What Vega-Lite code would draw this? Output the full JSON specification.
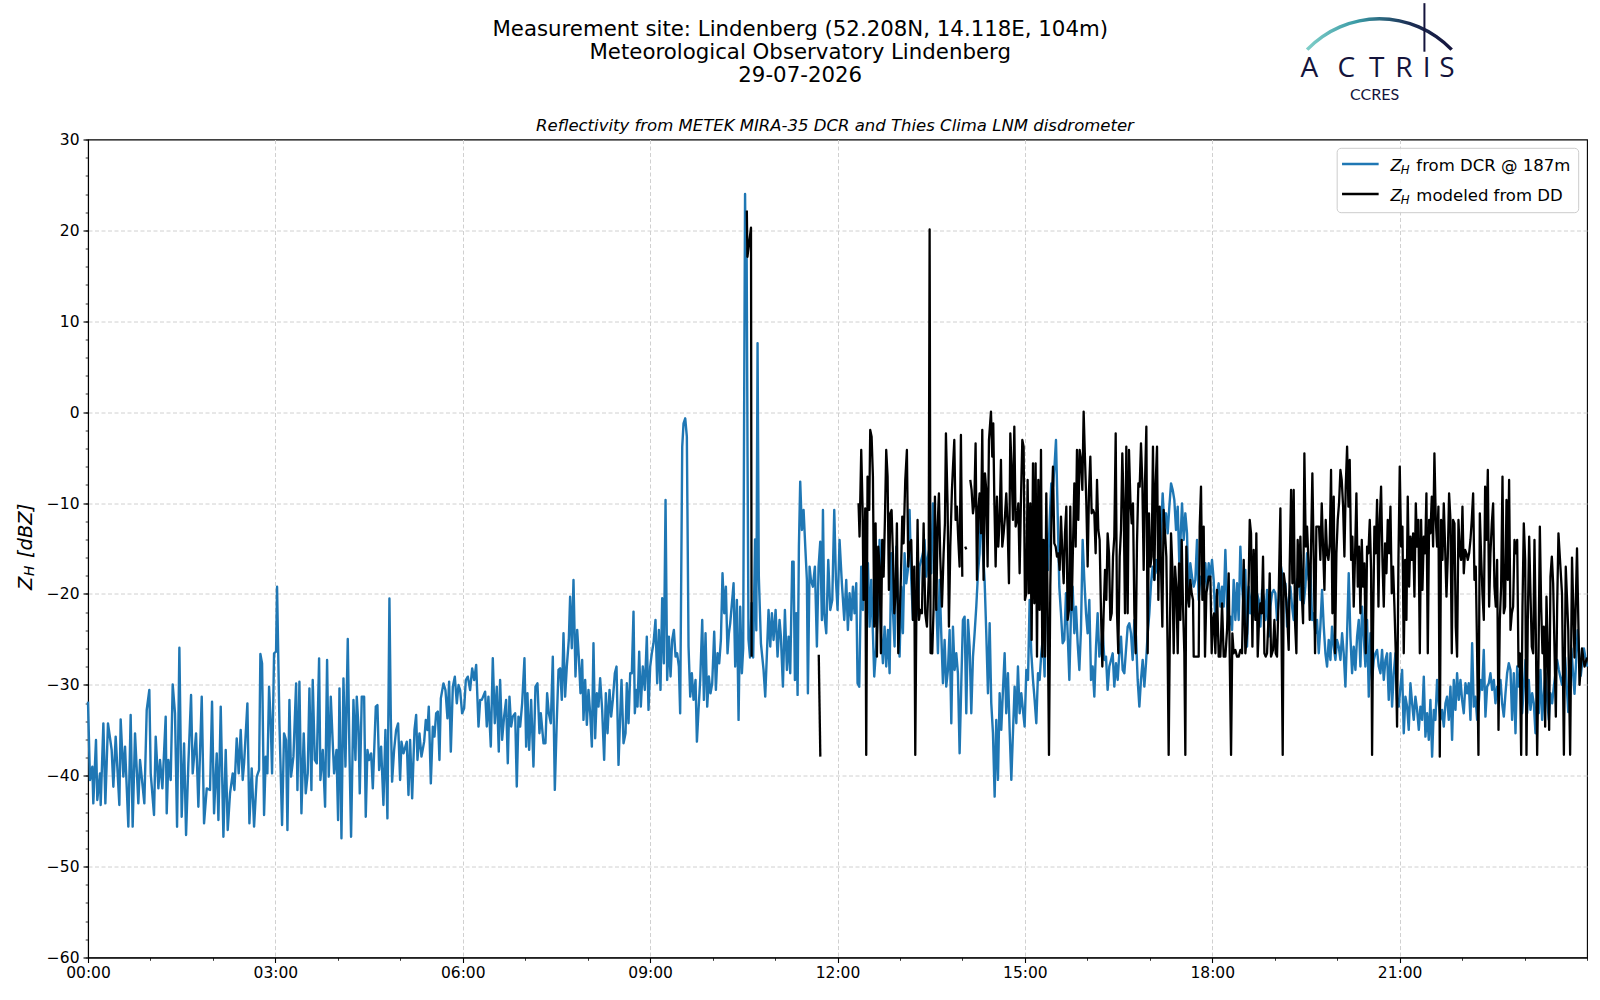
{
"$schema": "https://vega.github.io/schema/vega-lite/v6.json",
"autosize": "none",
"width": 1499,
"height": 818,
"padding": {"left": 88, "top": 139.5, "right": 13, "bottom": 42.5},
"background": "white",
"config": {
  "view": {"stroke": "#000000", "strokeWidth": 1.1},
  "font": "DejaVu Sans",
  "axis": {"labelFont": "DejaVu Sans", "labelFontSize": 15.5, "labelColor": "#000000", "tickColor": "#000000", "domainColor": "#000000", "labelFlush": false, "labelOverlap": false, "title": null}
},
"datasets": {
"one": [{}],
"dcr": [
{"t":0,"z":-31.85},{"t":0.032,"z":-40.47},{"t":0.069,"z":-39},{"t":0.085,"z":-43.04},{"t":0.128,"z":-36.07},{"t":0.149,"z":-42.67},{"t":0.192,"z":-39.74},{"t":0.203,"z":-43.22},{"t":0.246,"z":-34.24},{"t":0.278,"z":-43.04},{"t":0.32,"z":-34.24},{"t":0.379,"z":-37.17},{"t":0.406,"z":-41.21},{"t":0.443,"z":-35.7},{"t":0.502,"z":-43.22},{"t":0.523,"z":-33.8},{"t":0.566,"z":-40.1},{"t":0.593,"z":-36.8},{"t":0.646,"z":-45.6},{"t":0.683,"z":-33.32},{"t":0.715,"z":-45.6},{"t":0.753,"z":-35.34},{"t":0.806,"z":-43.04},{"t":0.833,"z":-38.27},{"t":0.902,"z":-43.04},{"t":0.94,"z":-32.77},{"t":0.982,"z":-30.57},{"t":1.004,"z":-39.74},{"t":1.057,"z":-44.32},{"t":1.084,"z":-35.7},{"t":1.127,"z":-41.39},{"t":1.153,"z":-38.27},{"t":1.191,"z":-41.39},{"t":1.244,"z":-33.5},{"t":1.26,"z":-44.14},{"t":1.287,"z":-38.27},{"t":1.324,"z":-40.47},{"t":1.356,"z":-29.95},{"t":1.393,"z":-33.14},{"t":1.426,"z":-45.6},{"t":1.463,"z":-25.91},{"t":1.5,"z":-44.51},{"t":1.538,"z":-36.44},{"t":1.57,"z":-46.52},{"t":1.607,"z":-38.64},{"t":1.65,"z":-31.12},{"t":1.676,"z":-39.74},{"t":1.73,"z":-35.34},{"t":1.767,"z":-43.41},{"t":1.821,"z":-31.3},{"t":1.858,"z":-45.24},{"t":1.901,"z":-41.39},{"t":1.954,"z":-41.57},{"t":1.986,"z":-31.85},{"t":2.018,"z":-44.14},{"t":2.061,"z":-37.54},{"t":2.088,"z":-44.87},{"t":2.125,"z":-32.4},{"t":2.168,"z":-46.71},{"t":2.205,"z":-37.17},{"t":2.237,"z":-45.97},{"t":2.274,"z":-41.94},{"t":2.317,"z":-39.74},{"t":2.344,"z":-41.57},{"t":2.381,"z":-35.89},{"t":2.413,"z":-39.74},{"t":2.445,"z":-34.97},{"t":2.477,"z":-40.47},{"t":2.499,"z":-38.64},{"t":2.552,"z":-32.04},{"t":2.584,"z":-45.24},{"t":2.621,"z":-39.19},{"t":2.659,"z":-45.6},{"t":2.702,"z":-40.1},{"t":2.739,"z":-39.37},{"t":2.76,"z":-26.61},{"t":2.787,"z":-27.64},{"t":2.819,"z":-44.32},{"t":2.846,"z":-37.9},{"t":2.872,"z":-39.74},{"t":2.899,"z":-30.2},{"t":2.926,"z":-34.24},{"t":2.947,"z":-39.74},{"t":2.979,"z":-26.54},{"t":3.011,"z":-26.35},{"t":3.027,"z":-19.2},{"t":3.065,"z":-34.24},{"t":3.107,"z":-45.42},{"t":3.139,"z":-35.34},{"t":3.171,"z":-36.07},{"t":3.193,"z":-45.97},{"t":3.225,"z":-31.67},{"t":3.251,"z":-40.1},{"t":3.289,"z":-37.9},{"t":3.332,"z":-29.84},{"t":3.353,"z":-41.57},{"t":3.385,"z":-29.65},{"t":3.417,"z":-44.14},{"t":3.454,"z":-35.34},{"t":3.486,"z":-41.94},{"t":3.518,"z":-39.74},{"t":3.545,"z":-30.39},{"t":3.577,"z":-41.57},{"t":3.598,"z":-29.47},{"t":3.631,"z":-38.27},{"t":3.663,"z":-38.64},{"t":3.7,"z":-27.09},{"t":3.721,"z":-40.47},{"t":3.759,"z":-37.17},{"t":3.796,"z":-43.41},{"t":3.828,"z":-27.27},{"t":3.855,"z":-40.1},{"t":3.887,"z":-31.3},{"t":3.914,"z":-35.7},{"t":3.94,"z":-39.74},{"t":3.978,"z":-37.17},{"t":4.004,"z":-44.87},{"t":4.026,"z":-30.39},{"t":4.058,"z":-46.89},{"t":4.09,"z":-29.29},{"t":4.122,"z":-39},{"t":4.159,"z":-24.96},{"t":4.186,"z":-37.54},{"t":4.212,"z":-46.71},{"t":4.25,"z":-31.67},{"t":4.282,"z":-38.27},{"t":4.303,"z":-31.3},{"t":4.33,"z":-34.6},{"t":4.351,"z":-41.94},{"t":4.383,"z":-31.3},{"t":4.421,"z":-31.3},{"t":4.447,"z":-44.51},{"t":4.474,"z":-37.17},{"t":4.501,"z":-38.27},{"t":4.533,"z":-37.54},{"t":4.56,"z":-41.39},{"t":4.608,"z":-32.4},{"t":4.634,"z":-32.22},{"t":4.661,"z":-39.37},{"t":4.693,"z":-36.8},{"t":4.73,"z":-43.22},{"t":4.762,"z":-34.97},{"t":4.794,"z":-44.69},{"t":4.826,"z":-20.49},{"t":4.848,"z":-33.5},{"t":4.869,"z":-40.65},{"t":4.901,"z":-37.17},{"t":4.933,"z":-34.97},{"t":4.965,"z":-34.24},{"t":4.997,"z":-40.47},{"t":5.019,"z":-36.25},{"t":5.051,"z":-37.54},{"t":5.104,"z":-36.25},{"t":5.131,"z":-42.12},{"t":5.157,"z":-36.07},{"t":5.19,"z":-42.49},{"t":5.227,"z":-34.97},{"t":5.254,"z":-33.32},{"t":5.275,"z":-38.27},{"t":5.307,"z":-35.34},{"t":5.339,"z":-37.9},{"t":5.382,"z":-36.25},{"t":5.408,"z":-33.87},{"t":5.435,"z":-34.97},{"t":5.456,"z":-32.4},{"t":5.489,"z":-40.84},{"t":5.521,"z":-34.6},{"t":5.547,"z":-35.7},{"t":5.574,"z":-33.14},{"t":5.601,"z":-32.95},{"t":5.627,"z":-38.27},{"t":5.649,"z":-31.49},{"t":5.691,"z":-29.84},{"t":5.723,"z":-30.57},{"t":5.755,"z":-33.69},{"t":5.782,"z":-29.65},{"t":5.809,"z":-37.35},{"t":5.841,"z":-30.2},{"t":5.873,"z":-29.1},{"t":5.905,"z":-32.04},{"t":5.932,"z":-30.02},{"t":5.958,"z":-30.57},{"t":5.99,"z":-33.14},{"t":6.022,"z":-32.59},{"t":6.049,"z":-29.47},{"t":6.081,"z":-29.1},{"t":6.118,"z":-30.57},{"t":6.151,"z":-28.19},{"t":6.183,"z":-29.47},{"t":6.215,"z":-27.82},{"t":6.252,"z":-34.6},{"t":6.279,"z":-31.67},
{"t":6.305,"z":-31.66},{"t":6.358,"z":-30.75},{"t":6.385,"z":-34.59},{"t":6.411,"z":-31.3},{"t":6.449,"z":-36.8},{"t":6.481,"z":-27.08},{"t":6.513,"z":-34.23},{"t":6.545,"z":-30.2},{"t":6.577,"z":-37.35},{"t":6.598,"z":-29.46},{"t":6.63,"z":-36.06},{"t":6.662,"z":-33.5},{"t":6.694,"z":-31.66},{"t":6.721,"z":-38.63},{"t":6.748,"z":-31.3},{"t":6.775,"z":-34.59},{"t":6.801,"z":-33.5},{"t":6.839,"z":-33.13},{"t":6.865,"z":-41.19},{"t":6.892,"z":-33.5},{"t":6.919,"z":-34.59},{"t":6.951,"z":-32.03},{"t":6.988,"z":-27.08},{"t":7.015,"z":-36.8},{"t":7.036,"z":-30.93},{"t":7.063,"z":-37.16},{"t":7.095,"z":-31.66},{"t":7.132,"z":-39},{"t":7.164,"z":-30.2},{"t":7.196,"z":-29.83},{"t":7.228,"z":-35.33},{"t":7.25,"z":-33.13},{"t":7.293,"z":-36.43},{"t":7.324,"z":-36.43},{"t":7.351,"z":-30.93},{"t":7.378,"z":-33.13},{"t":7.41,"z":-34.23},{"t":7.442,"z":-26.9},{"t":7.474,"z":-41.56},{"t":7.506,"z":-33.86},{"t":7.533,"z":-28.36},{"t":7.559,"z":-28.18},{"t":7.586,"z":-31.66},{"t":7.613,"z":-24.33},{"t":7.639,"z":-31.3},{"t":7.666,"z":-27.99},{"t":7.698,"z":-25.06},{"t":7.719,"z":-20.3},{"t":7.746,"z":-25.98},{"t":7.773,"z":-18.46},{"t":7.805,"z":-29.09},{"t":7.832,"z":-23.96},{"t":7.858,"z":-26.9},{"t":7.885,"z":-30.93},{"t":7.912,"z":-27.26},{"t":7.933,"z":-33.86},{"t":7.96,"z":-29.46},{"t":7.987,"z":-34.41},{"t":8.013,"z":-30.56},{"t":8.04,"z":-33.13},{"t":8.067,"z":-36.8},{"t":8.093,"z":-25.43},{"t":8.12,"z":-35.88},{"t":8.147,"z":-30.93},{"t":8.173,"z":-32.4},{"t":8.2,"z":-29.28},{"t":8.232,"z":-32.76},{"t":8.264,"z":-38.26},{"t":8.291,"z":-30.93},{"t":8.318,"z":-35.33},{"t":8.35,"z":-30.56},{"t":8.376,"z":-33.5},{"t":8.403,"z":-31.66},{"t":8.435,"z":-28.73},{"t":8.462,"z":-27.99},{"t":8.494,"z":-38.81},{"t":8.52,"z":-33.5},{"t":8.542,"z":-29.46},{"t":8.574,"z":-36.43},{"t":8.606,"z":-35.33},{"t":8.627,"z":-29.83},{"t":8.654,"z":-34.23},{"t":8.681,"z":-28.73},{"t":8.707,"z":-28.73},{"t":8.734,"z":-21.94},{"t":8.755,"z":-33.13},{"t":8.777,"z":-30.56},{"t":8.798,"z":-32.4},{"t":8.825,"z":-26.35},{"t":8.851,"z":-32.4},{"t":8.883,"z":-27.99},{"t":8.915,"z":-30.56},{"t":8.947,"z":-24.7},{"t":8.974,"z":-32.76},{"t":9.001,"z":-27.99},{"t":9.027,"z":-26.53},{"t":9.054,"z":-25.43},{"t":9.086,"z":-22.86},{"t":9.113,"z":-29.83},{"t":9.14,"z":-23.96},{"t":9.166,"z":-30.56},{"t":9.193,"z":-20.48},{"t":9.22,"z":-27.63},{"t":9.247,"z":-9.66},{"t":9.273,"z":-29.46},{"t":9.3,"z":-24.7},{"t":9.327,"z":-29.09},{"t":9.353,"z":-25.06},{"t":9.38,"z":-23.96},{"t":9.407,"z":-26.9},{"t":9.433,"z":-26.53},{"t":9.46,"z":-27.99},{"t":9.481,"z":-33.13},{"t":9.514,"z":-3.79},{"t":9.535,"z":-1.23},{"t":9.562,"z":-0.68},{"t":9.588,"z":-2.69},{"t":9.615,"z":-25.79},{"t":9.642,"z":-31.3},{"t":9.668,"z":-28.73},{"t":9.695,"z":-31.66},{"t":9.727,"z":-29.46},{"t":9.749,"z":-36.25},{"t":9.775,"z":-32.76},{"t":9.802,"z":-29.46},{"t":9.834,"z":-22.86},{"t":9.861,"z":-31.66},{"t":9.887,"z":-24.33},{"t":9.914,"z":-32.4},{"t":9.941,"z":-29.09},{"t":9.967,"z":-30.93},{"t":9.994,"z":-29.83},{"t":10.026,"z":-24.15},{"t":10.053,"z":-30.56},{"t":10.079,"z":-26.53},{"t":10.106,"z":-27.63},{"t":10.133,"z":-25.06},{"t":10.159,"z":-17.73},{"t":10.186,"z":-22.13},{"t":10.213,"z":-19.2},{"t":10.239,"z":-26.53},{"t":10.261,"z":-24.33},{"t":10.282,"z":-23.23},{"t":10.314,"z":-20.67},{"t":10.336,"z":-18.83},{"t":10.362,"z":-27.99},{"t":10.389,"z":-20.67},{"t":10.416,"z":-33.86},{"t":10.442,"z":-21.4},{"t":10.469,"z":-28.73},
{"t":10.49,"z":-26},{"t":10.505,"z":0},{"t":10.52,"z":24},{"t":10.532,"z":13.5},{"t":10.545,"z":18},{"t":10.56,"z":-5},{"t":10.575,"z":-25},{"t":10.6,"z":-27},{"t":10.625,"z":-21},{"t":10.65,"z":-27},{"t":10.68,"z":-14},{"t":10.7,"z":-24},{"t":10.72,"z":7.6},{"t":10.74,"z":-18},
{"t":10.774,"z":-25.43},{"t":10.816,"z":-28.36},{"t":10.843,"z":-31.3},{"t":10.87,"z":-26.53},{"t":10.896,"z":-21.76},{"t":10.923,"z":-25.79},{"t":10.95,"z":-22.13},{"t":10.976,"z":-25.06},{"t":11.009,"z":-21.76},{"t":11.04,"z":-26.9},{"t":11.072,"z":-22.86},{"t":11.094,"z":-24.7},{"t":11.126,"z":-30.2},{"t":11.158,"z":-21.76},{"t":11.19,"z":-28.36},{"t":11.217,"z":-24.7},{"t":11.243,"z":-28.73},{"t":11.275,"z":-16.44},{"t":11.297,"z":-16.44},{"t":11.318,"z":-29.46},{"t":11.339,"z":-22.13},{"t":11.361,"z":-31.11},{"t":11.382,"z":-14.8},{"t":11.403,"z":-7.64},{"t":11.43,"z":-12.96},{"t":11.457,"z":-10.76},{"t":11.484,"z":-14.8},{"t":11.51,"z":-18.46},{"t":11.526,"z":-30.93},{"t":11.553,"z":-16.99},{"t":11.574,"z":-18.46},{"t":11.606,"z":-19.2},{"t":11.638,"z":-16.99},{"t":11.67,"z":-25.79},{"t":11.697,"z":-16.99},{"t":11.724,"z":-14.25},{"t":11.75,"z":-22.86},{"t":11.767,"z":-10.76},{"t":11.788,"z":-22.13},{"t":11.82,"z":-24.33},{"t":11.852,"z":-16.26},{"t":11.884,"z":-21.76},{"t":11.916,"z":-20.67},{"t":11.948,"z":-10.76},{"t":11.975,"z":-18.46},{"t":12.001,"z":-21.76},{"t":12.033,"z":-14.06},
{"t":12.07,"z":-18.83},{"t":12.108,"z":-22.86},{"t":12.14,"z":-18.46},{"t":12.166,"z":-23.96},{"t":12.193,"z":-19.93},{"t":12.22,"z":-22.86},{"t":12.247,"z":-19.2},{"t":12.273,"z":-22.13},{"t":12.3,"z":-18.83},{"t":12.321,"z":-29.83},{"t":12.348,"z":-30.2},{"t":12.38,"z":-16.99},{"t":12.407,"z":-21.76},{"t":12.433,"z":-11.86},{"t":12.46,"z":-18.46},{"t":12.487,"z":-16.63},{"t":12.514,"z":-23.6},{"t":12.54,"z":-18.46},{"t":12.567,"z":-24.33},{"t":12.588,"z":-29.09},{"t":12.62,"z":-25.79},{"t":12.647,"z":-22.13},{"t":12.674,"z":-14.06},{"t":12.7,"z":-24.33},{"t":12.727,"z":-27.63},{"t":12.754,"z":-23.6},{"t":12.78,"z":-27.99},{"t":12.807,"z":-23.96},{"t":12.834,"z":-28.73},{"t":12.861,"z":-15.53},{"t":12.887,"z":-21.76},{"t":12.914,"z":-25.79},{"t":12.941,"z":-14.8},{"t":12.967,"z":-20.3},{"t":12.994,"z":-26.9},{"t":13.021,"z":-19.2},{"t":13.047,"z":-24.33},{"t":13.074,"z":-15.53},{"t":13.101,"z":-18.83},{"t":13.127,"z":-17.36},{"t":13.154,"z":-10.76},{"t":13.181,"z":-18.46},{"t":13.208,"z":-22.86},{"t":13.234,"z":-19.93},{"t":13.261,"z":-22.5},{"t":13.288,"z":-21.4},{"t":13.314,"z":-16.99},{"t":13.341,"z":-16.26},{"t":13.368,"z":-15.53},{"t":13.394,"z":-14.06},{"t":13.421,"z":-18.1},{"t":13.448,"z":-15.9},{"t":13.475,"z":-14.8},{"t":13.501,"z":-17.73},{"t":13.528,"z":-10.03},{"t":13.555,"z":-14.06},{"t":13.581,"z":-20.66},{"t":13.608,"z":-26.53},{"t":13.635,"z":-18.46},{"t":13.661,"z":-24.33},{"t":13.688,"z":-29.83},{"t":13.715,"z":-25.06},{"t":13.741,"z":-30.2},{"t":13.768,"z":-28.36},{"t":13.795,"z":-23.96},{"t":13.822,"z":-34.23},{"t":13.848,"z":-23.6},{"t":13.875,"z":-28.36},{"t":13.902,"z":-26.53},{"t":13.928,"z":-28.73},{"t":13.955,"z":-37.53},{"t":13.982,"z":-29.83},{"t":14.008,"z":-22.86},{"t":14.035,"z":-22.5},{"t":14.062,"z":-33.13},{"t":14.089,"z":-22.86},{"t":14.115,"z":-25.79},{"t":14.142,"z":-33.13},{"t":14.169,"z":-26.9},{"t":14.195,"z":-24.33},{"t":14.222,"z":-21.4},{"t":14.249,"z":-17.73},{"t":14.275,"z":-15.53},{"t":14.302,"z":-9.29},{"t":14.329,"z":-15.53},{"t":14.355,"z":-18.46},{"t":14.382,"z":-24.33},{"t":14.409,"z":-30.93},{"t":14.436,"z":-23.23},{"t":14.462,"z":-32.03},{"t":14.489,"z":-35.33},{"t":14.516,"z":-42.3},{"t":14.542,"z":-33.86},{"t":14.569,"z":-40.46},{"t":14.596,"z":-30.93},{"t":14.622,"z":-34.96},{"t":14.649,"z":-30.56},{"t":14.676,"z":-26.53},{"t":14.702,"z":-33.13},{"t":14.729,"z":-28.73},{"t":14.756,"z":-34.96},{"t":14.783,"z":-40.46},{"t":14.809,"z":-35.33},{"t":14.836,"z":-30.2},{"t":14.863,"z":-34.23},{"t":14.889,"z":-27.99},{"t":14.916,"z":-33.13},{"t":14.943,"z":-30.93},{"t":14.969,"z":-32.76},{"t":14.996,"z":-34.59},{"t":15.023,"z":-28.36},{"t":15.05,"z":-29.46},{"t":15.076,"z":-20.66},{"t":15.103,"z":-26.53},{"t":15.13,"z":-29.46},{"t":15.156,"z":-31.66},{"t":15.183,"z":-34.23},{"t":15.21,"z":-28.73},{"t":15.236,"z":-29.46},{"t":15.263,"z":-26.53},{"t":15.29,"z":-24.7},{"t":15.316,"z":-29.09},{"t":15.343,"z":-15.53},{"t":15.37,"z":-17.36},{"t":15.397,"z":-11.86},{"t":15.423,"z":-7.83},{"t":15.45,"z":-8.19},{"t":15.477,"z":-5.63},{"t":15.498,"z":-3.06},{"t":15.525,"z":-11.13},{"t":15.551,"z":-19.2},{"t":15.578,"z":-22.13},{"t":15.605,"z":-25.43},{"t":15.631,"z":-25.06},{"t":15.658,"z":-19.93},{"t":15.685,"z":-24.33},{"t":15.712,"z":-29.46},{"t":15.738,"z":-22.13},{"t":15.765,"z":-19.2},{"t":15.792,"z":-24.33},{"t":15.818,"z":-21.4},{"t":15.845,"z":-25.43},{"t":15.872,"z":-28.36},{"t":15.898,"z":-23.96},{"t":15.925,"z":-14.06},{"t":15.952,"z":-18.46},{"t":15.979,"z":-22.13},{"t":16.005,"z":-24.33},{"t":16.032,"z":-20.66},{"t":16.059,"z":-29.46},{"t":16.085,"z":-27.99},{"t":16.112,"z":-31.3},{"t":16.139,"z":-25.79},{"t":16.165,"z":-22.13},{"t":16.192,"z":-26.9},{"t":16.219,"z":-25.79},{"t":16.245,"z":-23.96},{"t":16.272,"z":-27.26},{"t":16.299,"z":-26.9},{"t":16.325,"z":-30.56},{"t":16.352,"z":-27.99},{"t":16.379,"z":-27.26},{"t":16.406,"z":-26.53},{"t":16.432,"z":-30.2},{"t":16.459,"z":-27.63},{"t":16.486,"z":-29.46},{"t":16.512,"z":-26.53},{"t":16.539,"z":-24.7},{"t":16.566,"z":-28.36},{"t":16.592,"z":-28.73},{"t":16.619,"z":-26.16},{"t":16.646,"z":-23.6},{"t":16.672,"z":-23.23},{"t":16.699,"z":-24.33},{"t":16.726,"z":-27.26},{"t":16.753,"z":-22.86},{"t":16.779,"z":-24.7},{"t":16.806,"z":-29.46},{"t":16.833,"z":-32.4},{"t":16.859,"z":-29.46},{"t":16.886,"z":-27.26},{"t":16.913,"z":-30.2},{"t":16.939,"z":-27.63},{"t":16.966,"z":-24.33},{"t":16.993,"z":-22.13},{"t":17.02,"z":-18.83},{"t":17.046,"z":-16.99},{"t":17.073,"z":-18.46},{"t":17.1,"z":-16.26},{"t":17.126,"z":-17.73},{"t":17.153,"z":-16.99},{"t":17.18,"z":-13.33},{"t":17.206,"z":-8.93},{"t":17.233,"z":-12.59},{"t":17.26,"z":-11.13},{"t":17.286,"z":-13.33},{"t":17.313,"z":-10.39},{"t":17.34,"z":-7.83},{"t":17.367,"z":-8.56},{"t":17.393,"z":-9.66},{"t":17.42,"z":-12.96},{"t":17.447,"z":-10.39},{"t":17.474,"z":-16.99},
{"t":17.516,"z":-10.03},{"t":17.543,"z":-14.06},{"t":17.569,"z":-11.13},{"t":17.596,"z":-13.33},{"t":17.623,"z":-21.03},{"t":17.649,"z":-16.63},{"t":17.676,"z":-18.09},{"t":17.703,"z":-19.2},{"t":17.729,"z":-18.46},{"t":17.756,"z":-14.06},{"t":17.783,"z":-20.66},{"t":17.81,"z":-18.09},{"t":17.836,"z":-18.83},{"t":17.863,"z":-19.2},{"t":17.89,"z":-16.63},{"t":17.916,"z":-19.56},{"t":17.943,"z":-16.63},{"t":17.97,"z":-18.09},{"t":17.996,"z":-16.26},{"t":18.023,"z":-18.46},{"t":18.05,"z":-22.86},{"t":18.076,"z":-19.93},{"t":18.103,"z":-18.83},{"t":18.13,"z":-21.4},{"t":18.157,"z":-19.2},{"t":18.183,"z":-21.4},{"t":18.21,"z":-15.16},{"t":18.237,"z":-21.03},{"t":18.263,"z":-23.6},{"t":18.29,"z":-22.5},{"t":18.317,"z":-23.96},{"t":18.343,"z":-18.46},{"t":18.37,"z":-22.86},{"t":18.397,"z":-18.83},{"t":18.423,"z":-22.86},{"t":18.45,"z":-14.79},{"t":18.477,"z":-19.2},{"t":18.504,"z":-21.4},{"t":18.53,"z":-17.36},{"t":18.557,"z":-25.8},{"t":18.584,"z":-19.2},{"t":18.61,"z":-22.13},{"t":18.637,"z":-19.93},{"t":18.664,"z":-18.83},{"t":18.69,"z":-22.5},{"t":18.717,"z":-19.93},{"t":18.744,"z":-20.66},{"t":18.771,"z":-23.6},{"t":18.797,"z":-19.56},{"t":18.824,"z":-20.3},{"t":18.851,"z":-22.86},{"t":18.877,"z":-19.56},{"t":18.904,"z":-24.7},{"t":18.931,"z":-21.4},{"t":18.957,"z":-19.93},{"t":18.984,"z":-19.56},{"t":19.011,"z":-19.93},{"t":19.037,"z":-22.86},{"t":19.064,"z":-20.66},{"t":19.091,"z":-16.63},{"t":19.117,"z":-17.73},{"t":19.144,"z":-19.56},{"t":19.171,"z":-18.83},{"t":19.198,"z":-23.6},{"t":19.224,"z":-20.66},{"t":19.251,"z":-19.2},{"t":19.278,"z":-21.4},{"t":19.304,"z":-22.86},{"t":19.331,"z":-19.2},{"t":19.358,"z":-18.46},{"t":19.384,"z":-18.09},{"t":19.411,"z":-20.66},{"t":19.438,"z":-17.36},{"t":19.465,"z":-21.03},{"t":19.491,"z":-19.2},{"t":19.518,"z":-15.53},{"t":19.545,"z":-18.46},{"t":19.571,"z":-16.99},{"t":19.598,"z":-22.86},{"t":19.625,"z":-22.13},{"t":19.651,"z":-24.33},{"t":19.678,"z":-22.86},{"t":19.705,"z":-26.53},{"t":19.731,"z":-23.6},{"t":19.758,"z":-19.56},{"t":19.785,"z":-23.6},{"t":19.812,"z":-26.53},{"t":19.838,"z":-27.99},{"t":19.865,"z":-25.06},{"t":19.892,"z":-27.26},{"t":19.918,"z":-23.6},{"t":19.945,"z":-25.8},{"t":19.972,"z":-27.26},{"t":19.998,"z":-25.06},{"t":20.025,"z":-25.8},{"t":20.052,"z":-27.26},{"t":20.079,"z":-24.33},{"t":20.105,"z":-26.53},{"t":20.132,"z":-30.2},{"t":20.159,"z":-24.33},{"t":20.185,"z":-17.73},{"t":20.212,"z":-24.7},{"t":20.239,"z":-28.73},{"t":20.265,"z":-25.8},{"t":20.292,"z":-28.36},{"t":20.319,"z":-24.7},{"t":20.346,"z":-22.86},{"t":20.372,"z":-27.99},{"t":20.399,"z":-21.4},{"t":20.426,"z":-24.7},{"t":20.452,"z":-27.99},{"t":20.479,"z":-22.86},{"t":20.506,"z":-31.3},{"t":20.532,"z":-24.33},{"t":20.559,"z":-29.46},{"t":20.586,"z":-27.26},{"t":20.612,"z":-26.53},{"t":20.639,"z":-26.16},{"t":20.666,"z":-27.99},{"t":20.693,"z":-28.73},{"t":20.719,"z":-26.16},{"t":20.746,"z":-29.46},{"t":20.773,"z":-27.26},{"t":20.799,"z":-26.53},{"t":20.826,"z":-31.66},{"t":20.853,"z":-26.53},{"t":20.879,"z":-32.4},{"t":20.906,"z":-28.73},{"t":20.933,"z":-26.53},{"t":20.959,"z":-31.66},{"t":20.986,"z":-32.4},{"t":21.013,"z":-30.2},{"t":21.04,"z":-28.36},{"t":21.066,"z":-35.33},{"t":21.093,"z":-31.3},{"t":21.12,"z":-32.4},{"t":21.146,"z":-34.96},{"t":21.173,"z":-29.83},{"t":21.2,"z":-32.03},{"t":21.226,"z":-33.86},{"t":21.253,"z":-31.3},{"t":21.28,"z":-32.76},{"t":21.307,"z":-34.96},{"t":21.333,"z":-32.4},{"t":21.36,"z":-33.86},{"t":21.387,"z":-29.1},{"t":21.413,"z":-35.7},{"t":21.44,"z":-33.13},{"t":21.467,"z":-36.06},{"t":21.493,"z":-31.66},{"t":21.52,"z":-37.9},{"t":21.547,"z":-32.76},{"t":21.573,"z":-33.86},{"t":21.6,"z":-29.46},{"t":21.627,"z":-32.03},{"t":21.653,"z":-33.86},{"t":21.68,"z":-32.76},{"t":21.707,"z":-34.6},{"t":21.734,"z":-32.03},{"t":21.76,"z":-31.3},{"t":21.787,"z":-33.86},{"t":21.814,"z":-30.2},{"t":21.84,"z":-36.06},{"t":21.867,"z":-29.46},{"t":21.894,"z":-32.76},{"t":21.92,"z":-28.73},{"t":21.947,"z":-31.66},{"t":21.974,"z":-29.46},{"t":22,"z":-31.66},{"t":22.027,"z":-33.13},{"t":22.054,"z":-29.83},{"t":22.081,"z":-30.93},{"t":22.107,"z":-29.83},{"t":22.134,"z":-33.86},{"t":22.161,"z":-25.43},{"t":22.187,"z":-32.4},{"t":22.214,"z":-31.3},{"t":22.241,"z":-33.86},{"t":22.267,"z":-32.03},{"t":22.294,"z":-29.46},{"t":22.321,"z":-30.56},{"t":22.347,"z":-26.16},{"t":22.374,"z":-33.5},{"t":22.401,"z":-30.2},{"t":22.428,"z":-29.83},{"t":22.454,"z":-28.73},{"t":22.481,"z":-30.56},{"t":22.508,"z":-29.46},{"t":22.534,"z":-32.03},{"t":22.561,"z":-30.2},{"t":22.588,"z":-31.3},{"t":22.615,"z":-29.46},{"t":22.641,"z":-32.03},{"t":22.668,"z":-33.5},{"t":22.695,"z":-30.93},{"t":22.721,"z":-28.73},{"t":22.748,"z":-27.63},{"t":22.775,"z":-28.36},{"t":22.801,"z":-33.86},{"t":22.828,"z":-28.73},{"t":22.855,"z":-35.33},{"t":22.882,"z":-27.99},{"t":22.908,"z":-30.2},{"t":22.935,"z":-28.73},{"t":22.962,"z":-33.13},{"t":22.988,"z":-30.2},{"t":23.015,"z":-27.26},{"t":23.042,"z":-33.13},{"t":23.068,"z":-29.46},{"t":23.095,"z":-32.76},{"t":23.122,"z":-30.93},{"t":23.148,"z":-32.03},{"t":23.175,"z":-35.33},{"t":23.202,"z":-30.2},{"t":23.228,"z":-33.13},{"t":23.255,"z":-28.36},{"t":23.282,"z":-33.86},{"t":23.309,"z":-30.93},{"t":23.335,"z":-28.73},{"t":23.362,"z":-31.66},{"t":23.389,"z":-33.86},{"t":23.415,"z":-30.93},{"t":23.442,"z":-32.03},{"t":23.469,"z":-30.2},{"t":23.495,"z":-28.73},{"t":23.522,"z":-27.26},{"t":23.549,"z":-28.36},{"t":23.6,"z":-30},{"t":23.65,"z":-27},{"t":23.7,"z":-33},{"t":23.75,"z":-26},{"t":23.8,"z":-31},{"t":23.85,"z":-24},{"t":23.9,"z":-29},{"t":23.95,"z":-26},{"t":24,"z":-28}
],
"dd": [
{"t":10.548,"z":22.2,"s":1},{"t":10.558,"z":17.1,"s":1},{"t":10.615,"z":20.3,"s":1},{"t":10.625,"z":-26.9,"s":1},
{"t":11.7,"z":-26.7,"s":2},{"t":11.725,"z":-37.9,"s":2},
{"t":12.337,"z":-10.03,"s":3},{"t":12.353,"z":-13.69,"s":3},{"t":12.38,"z":-4.16,"s":3},{"t":12.401,"z":-10.39,"s":3},{"t":12.417,"z":-20.66,"s":3},{"t":12.444,"z":-10.58,"s":3},{"t":12.46,"z":-37.71,"s":3},{"t":12.481,"z":-7.09,"s":3},{"t":12.508,"z":-10.76,"s":3},{"t":12.524,"z":-1.96,"s":3},{"t":12.546,"z":-2.69,"s":3},{"t":12.567,"z":-7.09,"s":3},{"t":12.588,"z":-23.6,"s":3},{"t":12.61,"z":-12.23,"s":3},{"t":12.631,"z":-26.9,"s":3},{"t":12.652,"z":-14.8,"s":3},{"t":12.674,"z":-16.99,"s":3},{"t":12.695,"z":-26.53,"s":3},{"t":12.716,"z":-14.06,"s":3},{"t":12.738,"z":-18.1,"s":3},{"t":12.759,"z":-11.86,"s":3},{"t":12.78,"z":-4.16,"s":3},{"t":12.802,"z":-7.09,"s":3},{"t":12.823,"z":-19.56,"s":3},{"t":12.845,"z":-11.13,"s":3},{"t":12.866,"z":-10.76,"s":3},{"t":12.887,"z":-15.53,"s":3},{"t":12.909,"z":-22.13,"s":3},{"t":12.93,"z":-19.93,"s":3},{"t":12.951,"z":-12.23,"s":3},{"t":12.973,"z":-26.53,"s":3},{"t":12.994,"z":-22.86,"s":3},{"t":13.015,"z":-18.1,"s":3},{"t":13.037,"z":-11.49,"s":3},{"t":13.058,"z":-14.43,"s":3},{"t":13.085,"z":-7.46,"s":3},{"t":13.111,"z":-4.16,"s":3},{"t":13.133,"z":-16.99,"s":3},{"t":13.154,"z":-14.43,"s":3},{"t":13.181,"z":-14.06,"s":3},{"t":13.208,"z":-22.86,"s":3},{"t":13.229,"z":-16.99,"s":3},{"t":13.245,"z":-37.71,"s":3},{"t":13.261,"z":-23.6,"s":3},{"t":13.282,"z":-11.86,"s":3},{"t":13.304,"z":-22.86,"s":3},{"t":13.325,"z":-21.76,"s":3},{"t":13.352,"z":-22.13,"s":3},{"t":13.379,"z":-12.23,"s":3},{"t":13.405,"z":-22.13,"s":3},{"t":13.432,"z":-23.6,"s":3},{"t":13.459,"z":-18.46,"s":3},{"t":13.475,"z":20.1,"s":3},{"t":13.49,"z":-26.5,"s":3},{"t":13.517,"z":-26.53,"s":3},{"t":13.539,"z":-21.4,"s":3},{"t":13.56,"z":-9.29,"s":3},{"t":13.581,"z":-21.76,"s":3},{"t":13.603,"z":-12.59,"s":3},{"t":13.624,"z":-8.93,"s":3},{"t":13.645,"z":-15.9,"s":3},{"t":13.672,"z":-21.4,"s":3},{"t":13.699,"z":-15.53,"s":3},{"t":13.72,"z":-12.23,"s":3},{"t":13.736,"z":-2.33,"s":3},{"t":13.763,"z":-10.39,"s":3},{"t":13.784,"z":-23.6,"s":3},{"t":13.806,"z":-14.8,"s":3},{"t":13.832,"z":-8.56,"s":3},{"t":13.848,"z":-6.18,"s":3},{"t":13.87,"z":-3.06,"s":3},{"t":13.891,"z":-11.86,"s":3},{"t":13.912,"z":-10.39,"s":3},{"t":13.934,"z":-14.06,"s":3},{"t":13.955,"z":-16.99,"s":3},{"t":13.976,"z":-2.51,"s":3},{"t":13.998,"z":-18.1,"s":3},
{"t":14.045,"z":-14.8,"s":4},{"t":14.062,"z":-15.1,"s":4},
{"t":14.126,"z":-7.46,"s":5},{"t":14.147,"z":-8.56,"s":5},{"t":14.169,"z":-11.13,"s":5},{"t":14.19,"z":-10.03,"s":5},{"t":14.211,"z":-3.43,"s":5},{"t":14.233,"z":-18.46,"s":5},{"t":14.254,"z":-10.76,"s":5},{"t":14.275,"z":-8.93,"s":5},{"t":14.297,"z":-13.33,"s":5},{"t":14.318,"z":-1.96,"s":5},{"t":14.339,"z":-18.46,"s":5},{"t":14.361,"z":-6.73,"s":5},{"t":14.382,"z":-8.56,"s":5},{"t":14.403,"z":-16.99,"s":5},{"t":14.425,"z":-3.06,"s":5},{"t":14.457,"z":0.06,"s":5},{"t":14.478,"z":-4.89,"s":5},{"t":14.494,"z":-1.23,"s":5},{"t":14.51,"z":-9.29,"s":5},{"t":14.532,"z":-16.99,"s":5},{"t":14.553,"z":-9.29,"s":5},{"t":14.574,"z":-14.8,"s":5},{"t":14.596,"z":-11.86,"s":5},{"t":14.617,"z":-5.26,"s":5},{"t":14.638,"z":-14.8,"s":5},{"t":14.66,"z":-13.33,"s":5},{"t":14.681,"z":-11.49,"s":5},{"t":14.702,"z":-8.93,"s":5},{"t":14.724,"z":-12.59,"s":5},{"t":14.745,"z":-18.83,"s":5},{"t":14.767,"z":-2.33,"s":5},{"t":14.788,"z":-6.36,"s":5},{"t":14.809,"z":-11.86,"s":5},{"t":14.831,"z":-1.59,"s":5},{"t":14.852,"z":-12.59,"s":5},{"t":14.873,"z":-11.86,"s":5},{"t":14.895,"z":-10.03,"s":5},{"t":14.916,"z":-17.73,"s":5},{"t":14.937,"z":-9.66,"s":5},{"t":14.959,"z":-3.06,"s":5},{"t":14.98,"z":-3.79,"s":5},{"t":15.001,"z":-20.66,"s":5},{"t":15.023,"z":-19.93,"s":5},{"t":15.044,"z":-7.46,"s":5},{"t":15.065,"z":-19.93,"s":5},{"t":15.087,"z":-10.03,"s":5},{"t":15.108,"z":-25.06,"s":5},{"t":15.13,"z":-5.63,"s":5},{"t":15.151,"z":-21.03,"s":5},{"t":15.172,"z":-5.63,"s":5},{"t":15.194,"z":-26.9,"s":5},{"t":15.215,"z":-7.46,"s":5},{"t":15.236,"z":-21.76,"s":5},{"t":15.258,"z":-4.16,"s":5},{"t":15.279,"z":-26.9,"s":5},{"t":15.3,"z":-14.06,"s":5},{"t":15.322,"z":-26.9,"s":5},{"t":15.343,"z":-8.93,"s":5},{"t":15.365,"z":-21.76,"s":5},{"t":15.386,"z":-37.71,"s":5},{"t":15.407,"z":-19.2,"s":5},{"t":15.429,"z":-10.39,"s":5},{"t":15.45,"z":-5.99,"s":5},{"t":15.471,"z":-14.43,"s":5},{"t":15.493,"z":-14.8,"s":5},{"t":15.514,"z":-15.9,"s":5},{"t":15.535,"z":-15.53,"s":5},{"t":15.557,"z":-17.36,"s":5},{"t":15.578,"z":-11.49,"s":5},{"t":15.6,"z":-15.53,"s":5},{"t":15.621,"z":-18.83,"s":5},{"t":15.642,"z":-13.33,"s":5},{"t":15.664,"z":-10.39,"s":5},{"t":15.685,"z":-22.86,"s":5},{"t":15.706,"z":-21.76,"s":5},{"t":15.727,"z":-10.39,"s":5},{"t":15.749,"z":-21.76,"s":5},{"t":15.77,"z":-14.8,"s":5},{"t":15.792,"z":-7.83,"s":5},{"t":15.813,"z":-14.8,"s":5},{"t":15.834,"z":-4.16,"s":5},{"t":15.856,"z":-11.86,"s":5},{"t":15.877,"z":-4.16,"s":5},{"t":15.898,"z":-5.26,"s":5},{"t":15.92,"z":-8.56,"s":5},{"t":15.941,"z":0.06,"s":5},{"t":15.963,"z":-5.26,"s":5},{"t":15.984,"z":-10.03,"s":5},{"t":16.005,"z":-16.99,"s":5},{"t":16.027,"z":-8.56,"s":5},{"t":16.048,"z":-4.89,"s":5},{"t":16.069,"z":-11.13,"s":5},{"t":16.091,"z":-10.76,"s":5},{"t":16.112,"z":-11.13,"s":5},{"t":16.133,"z":-15.53,"s":5},{"t":16.155,"z":-7.46,"s":5},{"t":16.176,"z":-12.96,"s":5},{"t":16.197,"z":-14.06,"s":5},{"t":16.219,"z":-22.13,"s":5},{"t":16.24,"z":-27.99,"s":5},{"t":16.261,"z":-22.13,"s":5},{"t":16.283,"z":-17.36,"s":5},{"t":16.304,"z":-20.66,"s":5},{"t":16.325,"z":-13.33,"s":5},{"t":16.347,"z":-15.53,"s":5},{"t":16.368,"z":-22.86,"s":5},{"t":16.39,"z":-22.13,"s":5},{"t":16.411,"z":-15.9,"s":5},{"t":16.432,"z":-13.69,"s":5},{"t":16.454,"z":-2.33,"s":5},{"t":16.475,"z":-22.13,"s":5},{"t":16.496,"z":-26.53,"s":5},{"t":16.518,"z":-15.9,"s":5},{"t":16.539,"z":-12.96,"s":5},{"t":16.56,"z":-4.53,"s":5},{"t":16.582,"z":-10.39,"s":5},{"t":16.603,"z":-22.13,"s":5},{"t":16.624,"z":-3.79,"s":5},{"t":16.646,"z":-22.13,"s":5},{"t":16.667,"z":-4.16,"s":5},{"t":16.689,"z":-9.66,"s":5},{"t":16.71,"z":-12.23,"s":5},{"t":16.731,"z":-10.03,"s":5},{"t":16.753,"z":-22.13,"s":5},{"t":16.774,"z":-26.53,"s":5},{"t":16.795,"z":-14.43,"s":5},{"t":16.817,"z":-7.83,"s":5},{"t":16.838,"z":-8.19,"s":5},{"t":16.859,"z":-3.43,"s":5},{"t":16.881,"z":-7.83,"s":5},{"t":16.902,"z":-17.36,"s":5},{"t":16.923,"z":-7.83,"s":5},{"t":16.945,"z":-1.59,"s":5},{"t":16.966,"z":-26.53,"s":5},{"t":16.987,"z":-11.13,"s":5},{"t":17.009,"z":-16.99,"s":5},{"t":17.03,"z":-15.9,"s":5},{"t":17.051,"z":-3.79,"s":5},{"t":17.073,"z":-18.46,"s":5},{"t":17.094,"z":-7.83,"s":5},{"t":17.116,"z":-3.79,"s":5},{"t":17.137,"z":-20.66,"s":5},{"t":17.158,"z":-10.39,"s":5},{"t":17.18,"z":-16.99,"s":5},{"t":17.201,"z":-23.6,"s":5},{"t":17.222,"z":-10.76,"s":5},{"t":17.244,"z":-13.33,"s":5},{"t":17.265,"z":-15.9,"s":5},{"t":17.286,"z":-26.53,"s":5},{"t":17.302,"z":-37.71,"s":5},{"t":17.318,"z":-26.53,"s":5},{"t":17.34,"z":-13.33,"s":5},{"t":17.361,"z":-16.99,"s":5},{"t":17.383,"z":-26.53,"s":5},{"t":17.404,"z":-16.99,"s":5},{"t":17.425,"z":-19.2,"s":5},{"t":17.447,"z":-26.53,"s":5},{"t":17.468,"z":-16.63,"s":5},{"t":17.49,"z":-22.86,"s":5},
{"t":17.511,"z":-14.06,"s":5},{"t":17.532,"z":-21.4,"s":5},{"t":17.553,"z":-26.53,"s":5},{"t":17.569,"z":-37.71,"s":5},{"t":17.585,"z":-14.79,"s":5},{"t":17.607,"z":-19.93,"s":5},{"t":17.628,"z":-21.4,"s":5},{"t":17.649,"z":-18.46,"s":5},{"t":17.671,"z":-19.93,"s":5},{"t":17.692,"z":-20.66,"s":5},{"t":17.703,"z":-26.9,"s":5},{"t":17.729,"z":-26.9,"s":5},{"t":17.783,"z":-26.9,"s":5},{"t":17.799,"z":-12.59,"s":5},{"t":17.82,"z":-8.19,"s":5},{"t":17.842,"z":-20.66,"s":5},{"t":17.863,"z":-12.59,"s":5},{"t":17.884,"z":-26.9,"s":5},{"t":17.906,"z":-19.93,"s":5},{"t":17.943,"z":-18.09,"s":5},{"t":17.97,"z":-18.09,"s":5},{"t":17.991,"z":-26.53,"s":5},{"t":18.012,"z":-22.86,"s":5},{"t":18.028,"z":-22.13,"s":5},{"t":18.05,"z":-26.53,"s":5},{"t":18.076,"z":-19.56,"s":5},{"t":18.103,"z":-26.9,"s":5},{"t":18.13,"z":-26.9,"s":5},{"t":18.157,"z":-21.03,"s":5},{"t":18.183,"z":-26.9,"s":5},{"t":18.21,"z":-26.9,"s":5},{"t":18.237,"z":-23.96,"s":5},{"t":18.263,"z":-17.73,"s":5},{"t":18.279,"z":-26.53,"s":5},{"t":18.301,"z":-37.71,"s":5},{"t":18.322,"z":-24.33,"s":5},{"t":18.343,"z":-26.53,"s":5},{"t":18.37,"z":-26.16,"s":5},{"t":18.397,"z":-26.9,"s":5},{"t":18.423,"z":-26.9,"s":5},{"t":18.45,"z":-26.16,"s":5},{"t":18.477,"z":-26.53,"s":5},{"t":18.504,"z":-16.26,"s":5},{"t":18.53,"z":-26.53,"s":5},{"t":18.557,"z":-24.33,"s":5},{"t":18.584,"z":-18.46,"s":5},{"t":18.6,"z":-11.86,"s":5},{"t":18.621,"z":-13.33,"s":5},{"t":18.643,"z":-25.8,"s":5},{"t":18.664,"z":-15.16,"s":5},{"t":18.69,"z":-22.86,"s":5},{"t":18.706,"z":-13.33,"s":5},{"t":18.728,"z":-26.9,"s":5},{"t":18.749,"z":-22.86,"s":5},{"t":18.771,"z":-21.03,"s":5},{"t":18.792,"z":-22.13,"s":5},{"t":18.813,"z":-15.89,"s":5},{"t":18.835,"z":-26.53,"s":5},{"t":18.856,"z":-26.9,"s":5},{"t":18.877,"z":-26.53,"s":5},{"t":18.904,"z":-22.13,"s":5},{"t":18.92,"z":-17.73,"s":5},{"t":18.941,"z":-26.9,"s":5},{"t":18.973,"z":-26.16,"s":5},{"t":18.995,"z":-22.86,"s":5},{"t":19.016,"z":-26.53,"s":5},{"t":19.037,"z":-26.9,"s":5},{"t":19.064,"z":-19.93,"s":5},{"t":19.091,"z":-10.58,"s":5},{"t":19.112,"z":-26.53,"s":5},{"t":19.128,"z":-37.71,"s":5},{"t":19.144,"z":-17.73,"s":5},{"t":19.171,"z":-19.2,"s":5},{"t":19.198,"z":-22.13,"s":5},{"t":19.224,"z":-26.16,"s":5},{"t":19.24,"z":-16.99,"s":5},{"t":19.262,"z":-8.56,"s":5},{"t":19.283,"z":-18.83,"s":5},{"t":19.304,"z":-8.56,"s":5},{"t":19.326,"z":-23.23,"s":5},{"t":19.347,"z":-26.53,"s":5},{"t":19.368,"z":-14.06,"s":5},{"t":19.39,"z":-19.2,"s":5},{"t":19.411,"z":-13.69,"s":5},{"t":19.433,"z":-19.93,"s":5},{"t":19.454,"z":-23.23,"s":5},{"t":19.475,"z":-4.53,"s":5},{"t":19.497,"z":-14.79,"s":5},{"t":19.518,"z":-12.59,"s":5},{"t":19.539,"z":-16.26,"s":5},{"t":19.561,"z":-22.86,"s":5},{"t":19.582,"z":-14.79,"s":5},{"t":19.603,"z":-6.73,"s":5},{"t":19.625,"z":-16.26,"s":5},{"t":19.646,"z":-26.53,"s":5},{"t":19.667,"z":-12.59,"s":5},{"t":19.689,"z":-12.59,"s":5},{"t":19.71,"z":-12.59,"s":5},{"t":19.731,"z":-16.26,"s":5},{"t":19.753,"z":-10.03,"s":5},{"t":19.774,"z":-14.79,"s":5},{"t":19.796,"z":-19.56,"s":5},{"t":19.817,"z":-11.86,"s":5},{"t":19.838,"z":-15.53,"s":5},{"t":19.86,"z":-16.26,"s":5},{"t":19.881,"z":-14.43,"s":5},{"t":19.902,"z":-6.36,"s":5},{"t":19.924,"z":-22.13,"s":5},{"t":19.945,"z":-9.29,"s":5},{"t":19.966,"z":-26.53,"s":5},{"t":19.988,"z":-15.53,"s":5},{"t":20.009,"z":-11.86,"s":5},{"t":20.03,"z":-10.03,"s":5},{"t":20.052,"z":-6.36,"s":5},{"t":20.073,"z":-7.46,"s":5},{"t":20.095,"z":-10.39,"s":5},{"t":20.116,"z":-15.89,"s":5},{"t":20.137,"z":-8.19,"s":5},{"t":20.159,"z":-3.79,"s":5},{"t":20.18,"z":-10.39,"s":5},{"t":20.201,"z":-5.26,"s":5},{"t":20.223,"z":-16.26,"s":5},{"t":20.244,"z":-13.69,"s":5},{"t":20.265,"z":-21.4,"s":5},{"t":20.287,"z":-15.53,"s":5},{"t":20.308,"z":-8.93,"s":5},{"t":20.33,"z":-19.2,"s":5},{"t":20.351,"z":-14.79,"s":5},{"t":20.372,"z":-22.13,"s":5},{"t":20.394,"z":-14.06,"s":5},{"t":20.415,"z":-19.2,"s":5},{"t":20.436,"z":-16.63,"s":5},{"t":20.458,"z":-26.53,"s":5},{"t":20.479,"z":-14.79,"s":5},{"t":20.5,"z":-15.53,"s":5},{"t":20.522,"z":-11.86,"s":5},{"t":20.543,"z":-17.36,"s":5},{"t":20.559,"z":-37.71,"s":5},{"t":20.575,"z":-23.6,"s":5},{"t":20.596,"z":-12.59,"s":5},{"t":20.618,"z":-15.53,"s":5},{"t":20.639,"z":-9.66,"s":5},{"t":20.661,"z":-21.4,"s":5},{"t":20.682,"z":-11.86,"s":5},{"t":20.703,"z":-8.19,"s":5},{"t":20.725,"z":-16.26,"s":5},{"t":20.746,"z":-21.4,"s":5},{"t":20.767,"z":-14.43,"s":5},{"t":20.789,"z":-17.73,"s":5},{"t":20.81,"z":-11.86,"s":5},{"t":20.831,"z":-15.53,"s":5},{"t":20.853,"z":-10.39,"s":5},{"t":20.874,"z":-19.93,"s":5},{"t":20.895,"z":-16.99,"s":5},{"t":20.917,"z":-21.4,"s":5},{"t":20.938,"z":-26.53,"s":5},{"t":20.959,"z":-34.6,"s":5},{"t":20.981,"z":-16.26,"s":5},{"t":21.002,"z":-5.99,"s":5},{"t":21.024,"z":-14.79,"s":5},{"t":21.045,"z":-12.59,"s":5},{"t":21.066,"z":-26.53,"s":5},{"t":21.088,"z":-16.26,"s":5},{"t":21.109,"z":-22.86,"s":5},{"t":21.13,"z":-9.29,"s":5},{"t":21.152,"z":-19.2,"s":5},{"t":21.173,"z":-13.69,"s":5},{"t":21.194,"z":-16.26,"s":5},{"t":21.216,"z":-13.33,"s":5},{"t":21.237,"z":-20.3,"s":5},{"t":21.259,"z":-10.03,"s":5},{"t":21.28,"z":-14.79,"s":5},{"t":21.301,"z":-11.86,"s":5},{"t":21.323,"z":-26.53,"s":5},{"t":21.344,"z":-11.86,"s":5},{"t":21.365,"z":-19.56,"s":5},{"t":21.387,"z":-13.69,"s":5},{"t":21.408,"z":-15.53,"s":5},{"t":21.429,"z":-8.93,"s":5},{"t":21.451,"z":-26.53,"s":5},{"t":21.472,"z":-11.86,"s":5},{"t":21.493,"z":-13.33,"s":5},{"t":21.515,"z":-9.29,"s":5},{"t":21.536,"z":-14.79,"s":5},{"t":21.557,"z":-4.53,"s":5},{"t":21.579,"z":-11.86,"s":5},{"t":21.6,"z":-14.79,"s":5},{"t":21.621,"z":-10.39,"s":5},{"t":21.643,"z":-37.9,"s":5},{"t":21.664,"z":-11.86,"s":5},{"t":21.686,"z":-16.26,"s":5},{"t":21.707,"z":-10.03,"s":5},{"t":21.728,"z":-14.79,"s":5},{"t":21.75,"z":-20.3,"s":5},{"t":21.771,"z":-15.89,"s":5},{"t":21.792,"z":-8.93,"s":5},{"t":21.814,"z":-11.86,"s":5},{"t":21.835,"z":-26.53,"s":5},{"t":21.856,"z":-11.86,"s":5},{"t":21.878,"z":-12.23,"s":5},{"t":21.899,"z":-23.6,"s":5},{"t":21.92,"z":-26.9,"s":5},{"t":21.942,"z":-11.86,"s":5},{"t":21.963,"z":-15.53,"s":5},{"t":21.985,"z":-16.26,"s":5},{"t":22.006,"z":-10.39,"s":5},{"t":22.027,"z":-17.73,"s":5},{"t":22.049,"z":-15.16,"s":5},{"t":22.07,"z":-15.53,"s":5},{"t":22.091,"z":-16.26,"s":5},{"t":22.113,"z":-15.53,"s":5},{"t":22.134,"z":-14.06,"s":5},{"t":22.155,"z":-11.86,"s":5},{"t":22.177,"z":-8.93,"s":5},{"t":22.198,"z":-18.46,"s":5},{"t":22.219,"z":-16.99,"s":5},{"t":22.241,"z":-26.53,"s":5},{"t":22.262,"z":-37.71,"s":5},{"t":22.284,"z":-11.13,"s":5},{"t":22.305,"z":-15.89,"s":5},{"t":22.326,"z":-19.93,"s":5},{"t":22.348,"z":-22.86,"s":5},{"t":22.369,"z":-8.19,"s":5},{"t":22.39,"z":-14.06,"s":5},{"t":22.412,"z":-6.36,"s":5},{"t":22.433,"z":-21.4,"s":5},{"t":22.454,"z":-15.53,"s":5},{"t":22.476,"z":-12.23,"s":5},{"t":22.497,"z":-10.03,"s":5},{"t":22.518,"z":-19.2,"s":5},{"t":22.54,"z":-21.4,"s":5},{"t":22.561,"z":-16.26,"s":5},{"t":22.583,"z":-34.96,"s":5},{"t":22.604,"z":-22.86,"s":5},{"t":22.625,"z":-19.2,"s":5},{"t":22.647,"z":-7.09,"s":5},{"t":22.668,"z":-22.13,"s":5},{"t":22.689,"z":-21.4,"s":5},{"t":22.711,"z":-9.66,"s":5},{"t":22.732,"z":-18.46,"s":5},{"t":22.753,"z":-7.46,"s":5},{"t":22.775,"z":-23.96,"s":5},{"t":22.796,"z":-22.13,"s":5},{"t":22.817,"z":-21.4,"s":5},{"t":22.839,"z":-14.06,"s":5},{"t":22.86,"z":-15.53,"s":5},{"t":22.882,"z":-14.06,"s":5},{"t":22.903,"z":-27.99,"s":5},{"t":22.924,"z":-26.53,"s":5},{"t":22.946,"z":-37.71,"s":5},{"t":22.967,"z":-21.4,"s":5},{"t":22.988,"z":-12.23,"s":5},{"t":23.01,"z":-16.26,"s":5},{"t":23.031,"z":-37.71,"s":5},{"t":23.052,"z":-22.86,"s":5},{"t":23.074,"z":-13.69,"s":5},{"t":23.095,"z":-19.93,"s":5},{"t":23.116,"z":-25.8,"s":5},{"t":23.138,"z":-26.53,"s":5},{"t":23.159,"z":-14.06,"s":5},{"t":23.18,"z":-23.96,"s":5},{"t":23.202,"z":-37.71,"s":5},{"t":23.223,"z":-27.26,"s":5},{"t":23.245,"z":-12.59,"s":5},{"t":23.266,"z":-21.4,"s":5},{"t":23.287,"z":-26.53,"s":5},{"t":23.309,"z":-23.6,"s":5},{"t":23.33,"z":-34.6,"s":5},{"t":23.351,"z":-20.3,"s":5},{"t":23.373,"z":-26.53,"s":5},{"t":23.394,"z":-34.96,"s":5},{"t":23.415,"z":-18.09,"s":5},{"t":23.437,"z":-15.89,"s":5},{"t":23.458,"z":-18.83,"s":5},{"t":23.479,"z":-25.8,"s":5},{"t":23.501,"z":-33.5,"s":5},{"t":23.522,"z":-21.4,"s":5},{"t":23.543,"z":-13.33,"s":5},{"t":23.6,"z":-20,"s":5},{"t":23.63,"z":-37.7,"s":5},{"t":23.66,"z":-17,"s":5},{"t":23.7,"z":-24,"s":5},{"t":23.73,"z":-37.7,"s":5},{"t":23.76,"z":-16,"s":5},{"t":23.8,"z":-27,"s":5},{"t":23.84,"z":-15,"s":5},{"t":23.88,"z":-30,"s":5},{"t":23.92,"z":-26,"s":5},{"t":23.96,"z":-28,"s":5},{"t":24,"z":-27,"s":5}
]
},
"resolve": {"axis": {"x": "independent", "y": "independent"}},
"layer": [
{
  "data": {"name": "dcr"},
  "mark": {"type": "line", "color": "#1f77b4", "strokeWidth": 2.4, "strokeJoin": "round"},
  "encoding": {
    "x": {"field": "t", "type": "quantitative", "scale": {"domain": [0, 24], "nice": false, "zero": false},
      "axis": {"orient": "bottom", "values": [0,3,6,9,12,15,18,21], "labelExpr": "(datum.value < 10 ? '0' : '') + datum.value + ':00'", "tickSize": 5, "tickWidth": 1.1, "domainWidth": 1.1, "labelPadding": 3, "grid": true, "gridColor": "#d0d0d0", "gridDash": [4, 2.5], "gridWidth": 1, "gridOpacity": {"condition": {"test": "datum.value == 0", "value": 0}, "value": 1}}},
    "y": {"field": "z", "type": "quantitative", "scale": {"domain": [-60, 30], "nice": false, "zero": false},
      "axis": {"orient": "left", "values": [-60,-50,-40,-30,-20,-10,0,10,20,30], "labelExpr": "datum.value < 0 ? '\u2212' + abs(datum.value) : '' + datum.value", "tickSize": 5, "tickWidth": 1.1, "domainWidth": 1.1, "labelPadding": 4, "grid": true, "gridColor": "#d0d0d0", "gridDash": [4, 2.5], "gridWidth": 1, "gridOpacity": {"condition": {"test": "datum.value == 30 || datum.value == -60", "value": 0}, "value": 1}}}
  }
},
{
  "data": {"name": "dd"},
  "mark": {"type": "line", "color": "#000000", "strokeWidth": 2.3, "strokeJoin": "round"},
  "encoding": {
    "x": {"field": "t", "type": "quantitative",
      "axis": {"orient": "bottom", "values": [0,1,2,3,4,5,6,7,8,9,10,11,12,13,14,15,16,17,18,19,20,21,22,23,24], "labels": false, "domain": false, "grid": false, "tickSize": 2.8, "tickWidth": 0.8}},
    "y": {"field": "z", "type": "quantitative",
      "axis": {"orient": "left", "values": [-60,-58,-56,-54,-52,-50,-48,-46,-44,-42,-40,-38,-36,-34,-32,-30,-28,-26,-24,-22,-20,-18,-16,-14,-12,-10,-8,-6,-4,-2,0,2,4,6,8,10,12,14,16,18,20,22,24,26,28,30], "labels": false, "domain": false, "grid": false, "tickSize": 2.8, "tickWidth": 0.8}},
    "detail": {"field": "s", "type": "nominal"}
  }
},
{
  "data": {"name": "one"},
  "mark": {"type": "text", "text": "Measurement site: Lindenberg (52.208N, 14.118E, 104m)", "font": "DejaVu Sans", "fontSize": 21.3, "align": "center", "baseline": "alphabetic", "color": "#000000"},
  "encoding": {"x": {"datum": 11.403, "type": "quantitative", "axis": null}, "y": {"datum": 41.4, "type": "quantitative", "axis": null}}
},
{
  "data": {"name": "one"},
  "mark": {"type": "text", "text": "Meteorological Observatory Lindenberg", "font": "DejaVu Sans", "fontSize": 21.3, "align": "center", "baseline": "alphabetic", "color": "#000000"},
  "encoding": {"x": {"datum": 11.403, "type": "quantitative", "axis": null}, "y": {"datum": 38.89, "type": "quantitative", "axis": null}}
},
{
  "data": {"name": "one"},
  "mark": {"type": "text", "text": "29-07-2026", "font": "DejaVu Sans", "fontSize": 21.3, "align": "center", "baseline": "alphabetic", "color": "#000000"},
  "encoding": {"x": {"datum": 11.403, "type": "quantitative", "axis": null}, "y": {"datum": 36.38, "type": "quantitative", "axis": null}}
},
{
  "data": {"name": "one"},
  "mark": {"type": "text", "text": "Reflectivity from METEK MIRA-35 DCR and Thies Clima LNM disdrometer", "font": "DejaVu Sans", "fontStyle": "italic", "fontSize": 16.5, "align": "center", "baseline": "alphabetic", "color": "#000000"},
  "encoding": {"x": {"datum": 11.96, "type": "quantitative", "axis": null}, "y": {"datum": 30.935, "type": "quantitative", "axis": null}}
},
{
  "data": {"name": "one"},
  "mark": {"type": "arc", "radius": 102, "radius2": 98.5, "theta": -0.805, "theta2": 0.805,
    "fill": {"gradient": "linear", "x1": 0, "y1": 0, "x2": 1, "y2": 0, "stops": [{"offset": 0, "color": "#80cfc9"}, {"offset": 0.35, "color": "#3a9aa5"}, {"offset": 0.7, "color": "#1c2f55"}, {"offset": 1, "color": "#14143c"}]}},
  "encoding": {"x": {"datum": 20.676, "type": "quantitative", "axis": null}, "y": {"datum": 32.244, "type": "quantitative", "axis": null}}
},
{
  "data": {"name": "one"},
  "mark": {"type": "rule", "color": "#14143c", "strokeWidth": 2},
  "encoding": {"x": {"datum": 21.397, "type": "quantitative", "axis": null}, "y": {"datum": 45.0, "type": "quantitative", "axis": null}, "y2": {"datum": 39.66}}
},
{
  "data": {"name": "one"},
  "mark": {"type": "text", "text": "A", "font": "Open Sans", "fontSize": 28, "fontWeight": 500, "align": "center", "baseline": "alphabetic", "color": "#14143c"},
  "encoding": {"x": {"datum": 19.556, "type": "quantitative", "axis": null}, "y": {"datum": 36.843, "type": "quantitative", "axis": null}}
},
{
  "data": {"name": "one"},
  "mark": {"type": "text", "text": "C", "font": "Open Sans", "fontSize": 28, "fontWeight": 500, "align": "center", "baseline": "alphabetic", "color": "#14143c"},
  "encoding": {"x": {"datum": 20.146, "type": "quantitative", "axis": null}, "y": {"datum": 36.843, "type": "quantitative", "axis": null}}
},
{
  "data": {"name": "one"},
  "mark": {"type": "text", "text": "T", "font": "Open Sans", "fontSize": 28, "fontWeight": 500, "align": "center", "baseline": "alphabetic", "color": "#14143c"},
  "encoding": {"x": {"datum": 20.634, "type": "quantitative", "axis": null}, "y": {"datum": 36.843, "type": "quantitative", "axis": null}}
},
{
  "data": {"name": "one"},
  "mark": {"type": "text", "text": "R", "font": "Open Sans", "fontSize": 28, "fontWeight": 500, "align": "center", "baseline": "alphabetic", "color": "#14143c"},
  "encoding": {"x": {"datum": 21.068, "type": "quantitative", "axis": null}, "y": {"datum": 36.843, "type": "quantitative", "axis": null}}
},
{
  "data": {"name": "one"},
  "mark": {"type": "text", "text": "I", "font": "Open Sans", "fontSize": 28, "fontWeight": 500, "align": "center", "baseline": "alphabetic", "color": "#14143c"},
  "encoding": {"x": {"datum": 21.434, "type": "quantitative", "axis": null}, "y": {"datum": 36.843, "type": "quantitative", "axis": null}}
},
{
  "data": {"name": "one"},
  "mark": {"type": "text", "text": "S", "font": "Open Sans", "fontSize": 28, "fontWeight": 500, "align": "center", "baseline": "alphabetic", "color": "#14143c"},
  "encoding": {"x": {"datum": 21.758, "type": "quantitative", "axis": null}, "y": {"datum": 36.843, "type": "quantitative", "axis": null}}
},
{
  "data": {"name": "one"},
  "mark": {"type": "text", "text": "CCRES", "font": "Lato", "fontSize": 16, "align": "center", "baseline": "alphabetic", "color": "#14143c"},
  "encoding": {"x": {"datum": 20.6, "type": "quantitative", "axis": null}, "y": {"datum": 34.4, "type": "quantitative", "axis": null}}
},
{
  "data": {"name": "one"},
  "mark": {"type": "rect", "fill": "#ffffff", "fillOpacity": 0.8, "stroke": "#cccccc", "strokeWidth": 1, "cornerRadius": 4},
  "encoding": {"x": {"datum": 20.0, "type": "quantitative", "axis": null}, "x2": {"datum": 23.867}, "y": {"datum": 29.032, "type": "quantitative", "axis": null}, "y2": {"datum": 21.946}}
},
{
  "data": {"name": "one"},
  "mark": {"type": "rule", "color": "#1f77b4", "strokeWidth": 2.4},
  "encoding": {"x": {"datum": 20.078, "type": "quantitative", "axis": null}, "x2": {"datum": 20.664}, "y": {"datum": 27.304, "type": "quantitative", "axis": null}}
},
{
  "data": {"name": "one"},
  "mark": {"type": "rule", "color": "#000000", "strokeWidth": 2.3},
  "encoding": {"x": {"datum": 20.078, "type": "quantitative", "axis": null}, "x2": {"datum": 20.664}, "y": {"datum": 24.004, "type": "quantitative", "axis": null}}
},
{
  "data": {"name": "one"},
  "mark": {"type": "text", "text": "Z", "font": "DejaVu Sans", "fontStyle": "italic", "fontSize": 16.5, "align": "left", "baseline": "alphabetic", "color": "#000000"},
  "encoding": {"x": {"datum": 20.852, "type": "quantitative", "axis": null}, "y": {"datum": 26.567, "type": "quantitative", "axis": null}}
},
{
  "data": {"name": "one"},
  "mark": {"type": "text", "text": "H", "font": "DejaVu Sans", "fontStyle": "italic", "fontSize": 11.7, "align": "left", "baseline": "alphabetic", "color": "#000000"},
  "encoding": {"x": {"datum": 21.02, "type": "quantitative", "axis": null}, "y": {"datum": 26.204, "type": "quantitative", "axis": null}}
},
{
  "data": {"name": "one"},
  "mark": {"type": "text", "text": "from DCR @ 187m", "font": "DejaVu Sans", "fontSize": 16.5, "align": "left", "baseline": "alphabetic", "color": "#000000"},
  "encoding": {"x": {"datum": 21.268, "type": "quantitative", "axis": null}, "y": {"datum": 26.567, "type": "quantitative", "axis": null}}
},
{
  "data": {"name": "one"},
  "mark": {"type": "text", "text": "Z", "font": "DejaVu Sans", "fontStyle": "italic", "fontSize": 16.5, "align": "left", "baseline": "alphabetic", "color": "#000000"},
  "encoding": {"x": {"datum": 20.852, "type": "quantitative", "axis": null}, "y": {"datum": 23.267, "type": "quantitative", "axis": null}}
},
{
  "data": {"name": "one"},
  "mark": {"type": "text", "text": "H", "font": "DejaVu Sans", "fontStyle": "italic", "fontSize": 11.7, "align": "left", "baseline": "alphabetic", "color": "#000000"},
  "encoding": {"x": {"datum": 21.02, "type": "quantitative", "axis": null}, "y": {"datum": 22.904, "type": "quantitative", "axis": null}}
},
{
  "data": {"name": "one"},
  "mark": {"type": "text", "text": "modeled from DD", "font": "DejaVu Sans", "fontSize": 16.5, "align": "left", "baseline": "alphabetic", "color": "#000000"},
  "encoding": {"x": {"datum": 21.268, "type": "quantitative", "axis": null}, "y": {"datum": 23.267, "type": "quantitative", "axis": null}}
},
{
  "data": {"name": "one"},
  "mark": {"type": "text", "text": "Z", "font": "DejaVu Sans", "fontStyle": "italic", "fontSize": 19.5, "angle": 270, "align": "left", "baseline": "alphabetic", "color": "#000000"},
  "encoding": {"x": {"datum": -0.9017, "type": "quantitative", "axis": null}, "y": {"datum": -19.565, "type": "quantitative", "axis": null}}
},
{
  "data": {"name": "one"},
  "mark": {"type": "text", "text": "H", "font": "DejaVu Sans", "fontStyle": "italic", "fontSize": 13.7, "angle": 270, "align": "left", "baseline": "alphabetic", "color": "#000000"},
  "encoding": {"x": {"datum": -0.857, "type": "quantitative", "axis": null}, "y": {"datum": -18.025, "type": "quantitative", "axis": null}}
},
{
  "data": {"name": "one"},
  "mark": {"type": "text", "text": "[dBZ]", "font": "DejaVu Sans", "fontStyle": "italic", "fontSize": 19.5, "angle": 270, "align": "left", "baseline": "alphabetic", "color": "#000000"},
  "encoding": {"x": {"datum": -0.9017, "type": "quantitative", "axis": null}, "y": {"datum": -16.05, "type": "quantitative", "axis": null}}
}
]
}
